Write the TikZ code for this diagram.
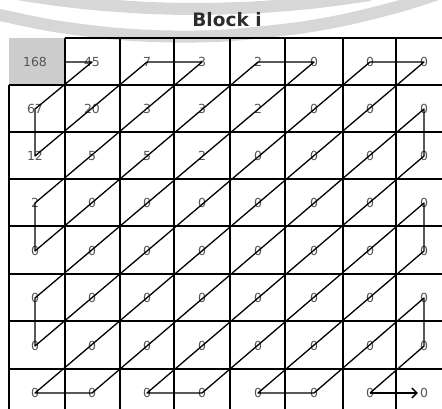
\documentclass[tikz,border=0pt]{standalone}
\usepackage{fontspec}
\setmainfont{DejaVu Sans}
\usetikzlibrary{arrows.meta}
\definecolor{numgray}{RGB}{85,85,85}
\definecolor{titlegray}{RGB}{45,45,45}
\definecolor{cellgray}{RGB}{205,205,205}
\definecolor{wmgray}{RGB}{215,215,215}
\begin{document}
\begin{tikzpicture}[x=1pt,y=-1pt,
  gridline/.style={line width=1.6pt,black},
  zz/.style={line width=1.3pt,black,line join=round},
  wm/.style={wmgray,line width=12pt},
  num/.style={font=\fontsize{12.5}{14}\selectfont,text=numgray,inner sep=0pt},
  titlestyle/.style={font=\bfseries\fontsize{18.5}{21}\selectfont,text=titlegray,inner sep=0pt}]
\useasboundingbox (0,0) rectangle (442,409);
\begin{scope}
\clip (0,0) rectangle (442,409);
% watermark arcs
\draw[wm] plot[smooth] coordinates {(-20,9.9) (0,15) (50,25.3) (100,32.2) (140,35.4) (183,36.6) (230,35.2) (300,27.8) (350,18.7) (400,6.1) (440,-6.6)};
\draw[wm] plot[smooth] coordinates {(20,-5.5) (57,0) (100,4.7) (150,8) (196,9) (250,7.6) (300,4) (335,0) (370,-5)};
% shaded DC cell
\fill[cellgray] (9,38) rectangle (65,85);
% grid
\draw[gridline] (65,38) -- (450,38);
\foreach \y in {85,132,179,226,274,321,369}
  \draw[gridline] (9,\y) -- (450,\y);
\draw[gridline] (9,85) -- (9,416);
\foreach \x in {65,120,174,230,285,343,396}
  \draw[gridline] (\x,38) -- (\x,416);
\end{scope}
% title
\node[titlestyle] (title) at (227,20) {Block i};
% numbers
\foreach \r/\vals in {0/{168,45,7,3,2,0,0,0},1/{67,20,3,3,2,0,0,0},2/{12,5,5,2,0,0,0,0},3/{2,0,0,0,0,0,0,0},4/{0,0,0,0,0,0,0,0},5/{0,0,0,0,0,0,0,0},6/{0,0,0,0,0,0,0,0},7/{0,0,0,0,0,0,0,0}}{
  \foreach \v [count=\c from 0] in \vals {
    \pgfmathsetmacro\xx{{35,92,147,202,258,314,370,424}[\c]}
    \pgfmathsetmacro\yy{{62,109,156,203,251,298,346,393}[\r]}
    \node[num] (n\r\c) at (\xx,\yy) {\v};
  }
}
% zigzag scan
\coordinate (start) at (65,62);
\draw[zz] (start) -- (n01.center) -- (n10.center) -- (n20.center) -- (n02.center)
  -- (n03.center) -- (n30.center) -- (n40.center) -- (n04.center) -- (n05.center)
  -- (n50.center) -- (n60.center) -- (n06.center) -- (n07.center) -- (n70.center)
  -- (n71.center) -- (n17.center) -- (n27.center) -- (n72.center) -- (n73.center)
  -- (n37.center) -- (n47.center) -- (n74.center) -- (n75.center) -- (n57.center)
  -- (n67.center) -- (n76.center);
\draw[zz,-{Straight Barb[length=5pt,width=10pt]},shorten >=2pt] (n76.center) -- (n77.west);
\end{tikzpicture}
\end{document}
